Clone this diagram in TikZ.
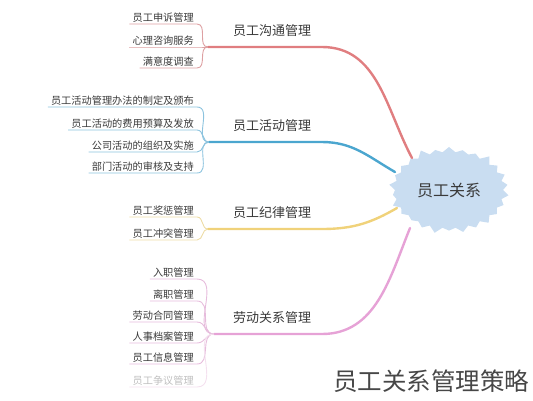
\documentclass[tikz,border=0pt]{standalone}
\usepackage{fontspec}
\setmainfont{Noto Sans CJK SC}
\usetikzlibrary{shapes.symbols,calc}
\definecolor{cred}{HTML}{E07E80}
\definecolor{credl}{HTML}{DDA0A2}
\definecolor{cblue}{HTML}{4BA6CF}
\definecolor{cbluel}{HTML}{8CC3DE}
\definecolor{cyel}{HTML}{F0D27A}
\definecolor{cyell}{HTML}{EDDCA6}
\definecolor{cpink}{HTML}{E6A2D6}
\definecolor{cpinkl}{HTML}{E6BCDC}
\definecolor{cloudc}{HTML}{C9DDF1}
\definecolor{txt}{HTML}{3A3A3A}
\begin{document}
\begin{tikzpicture}[x=1pt,y=-1pt,
  leaf/.style={anchor=south east,inner xsep=3pt,inner ysep=1.5pt,text=txt,font=\fontsize{10.2}{11}\selectfont},
  lab/.style={text=txt,font=\fontsize{13}{14}\selectfont},
  mainline/.style={line width=2.4pt,line cap=round},
  leafline/.style={line width=0.9pt},
  twig/.style={out=0,in=180,looseness=1.1}]
\useasboundingbox (0,0) rectangle (533,400);
\pgfmathsetseed{11}
% centre
\node[starburst,starburst points=26,starburst point height=7pt,fill=cloudc,draw=none,
  minimum width=122pt,minimum height=90pt,text=txt,font=\fontsize{16}{17}\selectfont] (C) at (449,190) {员工关系};
\coordinate (K1) at (412,158);
\coordinate (K2) at (395,172);
\coordinate (K3) at (397,208);
\coordinate (K4) at (410,228);
% branch 1
\coordinate (J1) at (208,47);
\coordinate (E1) at (322,47);
\node[lab] (L1) at (272,31) {员工沟通管理};
\draw[mainline,cred] (J1) -- (E1) to[out=0,in=118] (K1);
\node[leaf] (a1) at (197,24) {员工申诉管理};
\node[leaf] (a2) at (197,47) {心理咨询服务};
\node[leaf] (a3) at (197,68) {满意度调查};
\foreach \n in {a1,a2,a3}{\draw[leafline,credl] (\n.south west) -- (\n.south east) to[twig] (J1);}
% branch 2
\coordinate (J2) at (209,142);
\coordinate (E2) at (322,142);
\node[lab] (L2) at (272,126) {员工活动管理};
\draw[mainline,cblue] (J2) -- (E2) to[out=0,in=150] (K2);
\node[leaf] (b1) at (197,107) {员工活动管理办法的制定及颁布};
\node[leaf] (b2) at (197,130) {员工活动的费用预算及发放};
\node[leaf] (b3) at (197,152) {公司活动的组织及实施};
\node[leaf] (b4) at (197,173) {部门活动的审核及支持};
\foreach \n in {b1,b2,b3,b4}{\draw[leafline,cbluel] (\n.south west) -- (\n.south east) to[twig] (J2);}
% branch 3
\coordinate (J3) at (208,229);
\coordinate (E3) at (322,229);
\node[lab] (L3) at (272,213) {员工纪律管理};
\draw[mainline,cyel] (J3) -- (E3) to[out=0,in=-150] (K3);
\node[leaf] (c1) at (197,217) {员工奖惩管理};
\node[leaf] (c2) at (197,240) {员工冲突管理};
\foreach \n in {c1,c2}{\draw[leafline,cyell] (\n.south west) -- (\n.south east) to[twig] (J3);}
% branch 4
\coordinate (J4) at (214,334);
\coordinate (E4) at (322,334);
\node[lab] (L4) at (272,318) {劳动关系管理};
\draw[mainline,cpink] (J4) -- (E4) to[out=0,in=-112] (K4);
\node[leaf] (d1) at (197,279) {入职管理};
\node[leaf] (d2) at (197,301) {离职管理};
\node[leaf] (d3) at (197,322) {劳动合同管理};
\node[leaf] (d4) at (197,343) {人事档案管理};
\node[leaf] (d5) at (197,364) {员工信息管理};
\node[leaf,text=black!25] (d6) at (197,387) {员工争议管理};
\foreach \n in {d1,d2,d3,d4,d5}{\draw[leafline,cpinkl] (\n.south west) -- (\n.south east) to[twig] (J4);}
\draw[leafline,cpinkl!45] (d6.south west) -- (d6.south east) to[twig] (J4);
% caption
\node[text=black!72,font=\fontsize{24.5}{25}\selectfont] (cap) at (431,381) {员工关系管理策略};
\end{tikzpicture}
\end{document}
